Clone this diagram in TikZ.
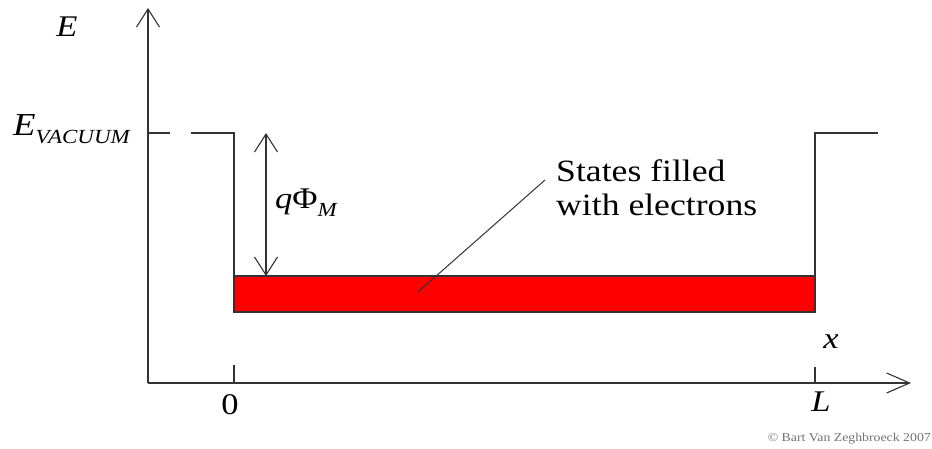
\documentclass[tikz,border=0pt]{standalone}
\usepackage{fontspec}
\setmainfont{Liberation Serif}[FakeStretch=1.15]
\usetikzlibrary{arrows.meta}
\newcommand{\lowsub}[1]{\raisebox{-8pt}{\fontsize{20}{22}\selectfont\itshape #1}}
\tikzset{
	axis/.style={line width=1.6pt, draw=black!80},
	level/.style={line width=1.2pt, draw=black!80},
	lbl/.style={inner sep=0pt, font=\fontsize{30}{33}\selectfont},
	>={Straight Barb[length=18pt, width=23pt, line width=1.1pt]}
}
\begin{document}
\begin{tikzpicture}[x=1pt, y=-1pt]
		\useasboundingbox (0,0) rectangle (932,448);
		% Оси
		\coordinate (origin) at (148,383);
		\coordinate (ytip) at (148,8);
		\coordinate (xtip) at (911,383);
		\draw[axis, ->] (origin) -- (ytip);
		\draw[axis, -{Straight Barb[length=23pt, width=20pt, line width=1.1pt]}] (origin) -- (xtip);
		\draw[axis] (234,365) -- (234,383);
		\draw[axis] (815,367) -- (815,383);
		
		\node[lbl] (elabel) at (67,27) {\textit{E}};
		\node[lbl, anchor=base] (zero) at (230,414) {0};
		\node[lbl, anchor=base] (llabel) at (821,411) {\textit{L}};
		\node[lbl, anchor=base] (xlabel) at (831,348) {\textit{x}};
		
		% Уровень вакуума
		\node[lbl, anchor=base west, font=\fontsize{32}{34}\selectfont] (evac) at (13,135) {\textit{E}\lowsub{VACUUM}};
		\draw[level] (148,133) -- (170,133);
		\draw[level] (191,133) -- (234,133) -- (234,312);
		\draw[level] (815,312) -- (815,133) -- (878,133);
		
		% Заполненные состояния
		\draw[level, fill=red] (234,276) rectangle (815,312);
		
		% Работа выхода
		\coordinate (vac) at (266,133);
		\coordinate (fermi) at (266,276);
		\draw[level, <->] (vac) -- (fermi);
		\node[lbl, anchor=base west] (phim) at (275,208) {\textit{q}Φ\lowsub{M}};
		
		\node[lbl, anchor=north west, align=left, font=\fontsize{31}{34}\selectfont] (states) at (556,159) {States filled\\with electrons};
		\coordinate (inside) at (418,292);
		\draw[line width=1pt, black!80] (inside) -- (545,180);
		
		\node[inner sep=0pt, anchor=base east, text=black!55, font=\fontsize{12}{14}\selectfont] (copy) at (931,441) {© Bart Van Zeghbroeck 2007};
	\end{tikzpicture}
\end{document}
